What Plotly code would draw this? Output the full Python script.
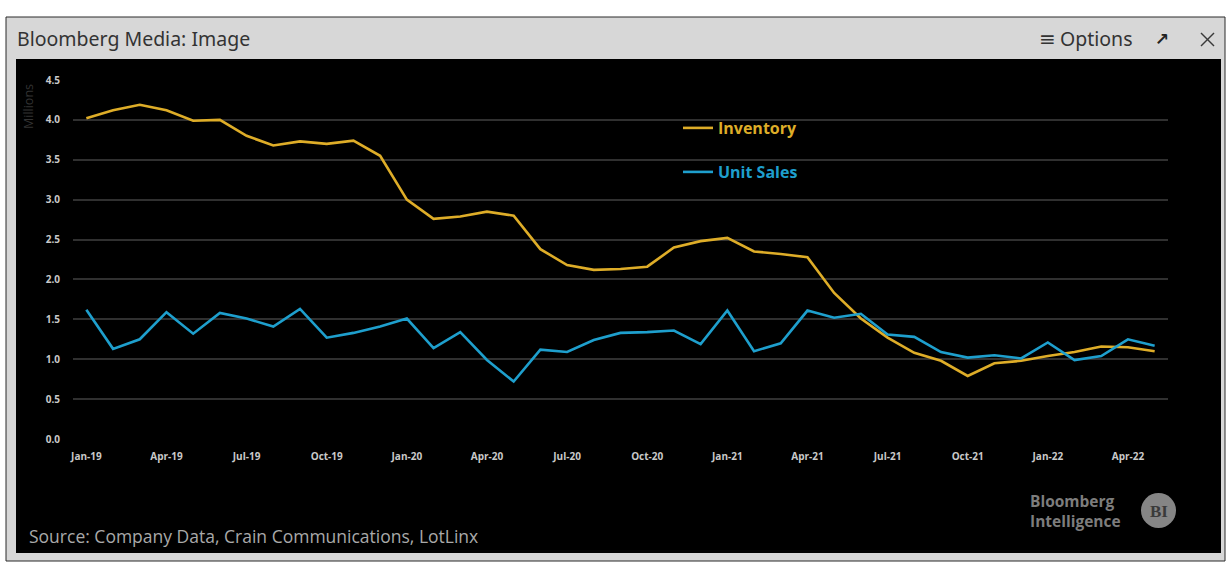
import plotly.graph_objects as go

# Monthly observations, Jan-19 through May-22 (millions)
months = [
    "Jan-19", "Feb-19", "Mar-19", "Apr-19", "May-19", "Jun-19", "Jul-19", "Aug-19", "Sep-19", "Oct-19", "Nov-19", "Dec-19",
    "Jan-20", "Feb-20", "Mar-20", "Apr-20", "May-20", "Jun-20", "Jul-20", "Aug-20", "Sep-20", "Oct-20", "Nov-20", "Dec-20",
    "Jan-21", "Feb-21", "Mar-21", "Apr-21", "May-21", "Jun-21", "Jul-21", "Aug-21", "Sep-21", "Oct-21", "Nov-21", "Dec-21",
    "Jan-22", "Feb-22", "Mar-22", "Apr-22", "May-22",
]

inventory = [
    4.02, 4.12, 4.19, 4.12, 3.99, 4.00, 3.80, 3.68, 3.73, 3.70, 3.74, 3.55,
    3.00, 2.76, 2.79, 2.85, 2.80, 2.38, 2.18, 2.12, 2.13, 2.16, 2.40, 2.48,
    2.52, 2.35, 2.32, 2.28, 1.83, 1.51, 1.27, 1.08, 0.98, 0.79, 0.95, 0.98,
    1.04, 1.09, 1.16, 1.15, 1.10,
]

unit_sales = [
    1.62, 1.13, 1.25, 1.59, 1.32, 1.58, 1.51, 1.41, 1.63, 1.27, 1.33, 1.41,
    1.51, 1.14, 1.34, 0.99, 0.72, 1.12, 1.09, 1.24, 1.33, 1.34, 1.36, 1.19,
    1.61, 1.10, 1.20, 1.61, 1.52, 1.57, 1.31, 1.28, 1.09, 1.02, 1.05, 1.01,
    1.21, 0.99, 1.04, 1.25, 1.17,
]

tick_months = ["Jan-19", "Apr-19", "Jul-19", "Oct-19", "Jan-20", "Apr-20", "Jul-20",
               "Oct-20", "Jan-21", "Apr-21", "Jul-21", "Oct-21", "Jan-22", "Apr-22"]

y_ticks = [0.0, 0.5, 1.0, 1.5, 2.0, 2.5, 3.0, 3.5, 4.0, 4.5]

GOLD = "#DEAD28"
BLUE = "#1E9FCD"

W, H = 1229, 563
PL, PR, PT, PB = 73, 1168, 80, 439


def fx(x):
    return (x - PL) / (PR - PL)


def fy(y):
    return (PB - y) / (PB - PT)


fig = go.Figure()
fig.add_trace(go.Scatter(
    x=months, y=inventory, mode="lines",
    name=f"<b><span style='color:{GOLD}'>Inventory</span></b>",
    line=dict(color=GOLD, width=2.6), legend="legend",
))
fig.add_trace(go.Scatter(
    x=months, y=unit_sales, mode="lines",
    name=f"<b><span style='color:{BLUE}'>Unit Sales</span></b>",
    line=dict(color=BLUE, width=2.6), legend="legend2",
))

tick_font = dict(family="Open Sans, sans-serif", size=10, color="#c9c9c9", weight="bold")

fig.update_xaxes(
    type="category", range=[-0.5, len(months) - 0.5],
    tickmode="array", tickvals=tick_months, ticktext=tick_months,
    showgrid=False, showline=False, zeroline=False, ticks="",
    tickfont=tick_font, ticklabelstandoff=10, tickangle=0,
)
fig.update_yaxes(
    range=[0, 4.5], tickmode="array", tickvals=y_ticks,
    tickformat=".1f", showgrid=True, gridcolor="#303030", gridwidth=1.6,
    zeroline=False, showline=False, ticks="", tickfont=tick_font,
    ticklabelstandoff=12,
)

legend_common = dict(
    bgcolor="rgba(0,0,0,0)", borderwidth=0, itemwidth=30,
    font=dict(family="Open Sans, sans-serif", size=16),
    xanchor="left", yanchor="middle", itemclick=False, itemdoubleclick=False,
)

shapes = [
    # window frame and title bar
    dict(type="rect", xref="paper", yref="paper", layer="below",
         x0=fx(6), x1=fx(1225), y0=fy(17), y1=fy(561),
         fillcolor="#d7d7d7", line=dict(color="#2a2a2a", width=1)),
    # chart canvas
    dict(type="rect", xref="paper", yref="paper", layer="below",
         x0=fx(16), x1=fx(1221), y0=fy(59), y1=fy(553),
         fillcolor="#000000", line=dict(width=0)),
    # close icon
    dict(type="line", xref="paper", yref="paper", layer="above",
         x0=fx(1201), x1=fx(1214), y0=fy(33), y1=fy(46),
         line=dict(color="#3a3a3a", width=1.4)),
    dict(type="line", xref="paper", yref="paper", layer="above",
         x0=fx(1201), x1=fx(1214), y0=fy(46), y1=fy(33),
         line=dict(color="#3a3a3a", width=1.4)),
    # Bloomberg Intelligence badge
    dict(type="circle", xref="paper", yref="paper", layer="above",
         x0=fx(1141), x1=fx(1176), y0=fy(493), y1=fy(528),
         fillcolor="#858585", line=dict(width=0)),
]

annotations = [
    dict(text="Bloomberg Media: Image", x=fx(15), y=fy(39), xref="paper", yref="paper",
         xanchor="left", yanchor="middle", showarrow=False,
         font=dict(family="Noto Sans, sans-serif", size=19.5, color="#333333")),
    dict(text="≡", x=fx(1047), y=fy(39), xref="paper", yref="paper",
         xanchor="center", yanchor="middle", showarrow=False,
         font=dict(family="DejaVu Sans, sans-serif", size=20, color="#333333")),
    dict(text="Options", x=fx(1134), y=fy(39), xref="paper", yref="paper",
         xanchor="right", yanchor="middle", showarrow=False,
         font=dict(family="Noto Sans, sans-serif", size=19.5, color="#333333")),
    dict(text="<b>↗</b>", x=fx(1162), y=fy(39), xref="paper", yref="paper",
         xanchor="center", yanchor="middle", showarrow=False,
         font=dict(family="DejaVu Sans, sans-serif", size=17, color="#222222")),
    dict(text="Millions", x=fx(29), y=fy(107), xref="paper", yref="paper",
         xanchor="center", yanchor="middle", showarrow=False, textangle=-90,
         font=dict(family="Open Sans, sans-serif", size=12.5, color="#333333")),
    dict(text="Source: Company Data, Crain Communications, LotLinx", x=fx(27), y=fy(536),
         xref="paper", yref="paper", xanchor="left", yanchor="middle", showarrow=False,
         font=dict(family="Open Sans, sans-serif", size=17.5, color="#a9a9a9")),
    dict(text="Bloomberg<br>Intelligence", x=fx(1028), y=fy(511), xref="paper", yref="paper",
         xanchor="left", yanchor="middle", align="left", showarrow=False,
         font=dict(family="Open Sans, sans-serif", size=15.5, color="#7d7d7d", weight="bold")),
    dict(text="<b>BI</b>", x=fx(1158.5), y=fy(511), xref="paper", yref="paper",
         xanchor="center", yanchor="middle", showarrow=False,
         font=dict(family="Liberation Serif, serif", size=17, color="#3a3a3a")),
]

fig.update_layout(
    width=W, height=H,
    margin=dict(l=PL, r=W - PR, t=PT, b=H - PB, pad=0),
    paper_bgcolor="#ffffff", plot_bgcolor="#000000",
    showlegend=True,
    legend=dict(x=fx(678), y=fy(128), **legend_common),
    legend2=dict(x=fx(678), y=fy(172), **legend_common),
    shapes=shapes, annotations=annotations,
)

fig.write_html("out.html")
